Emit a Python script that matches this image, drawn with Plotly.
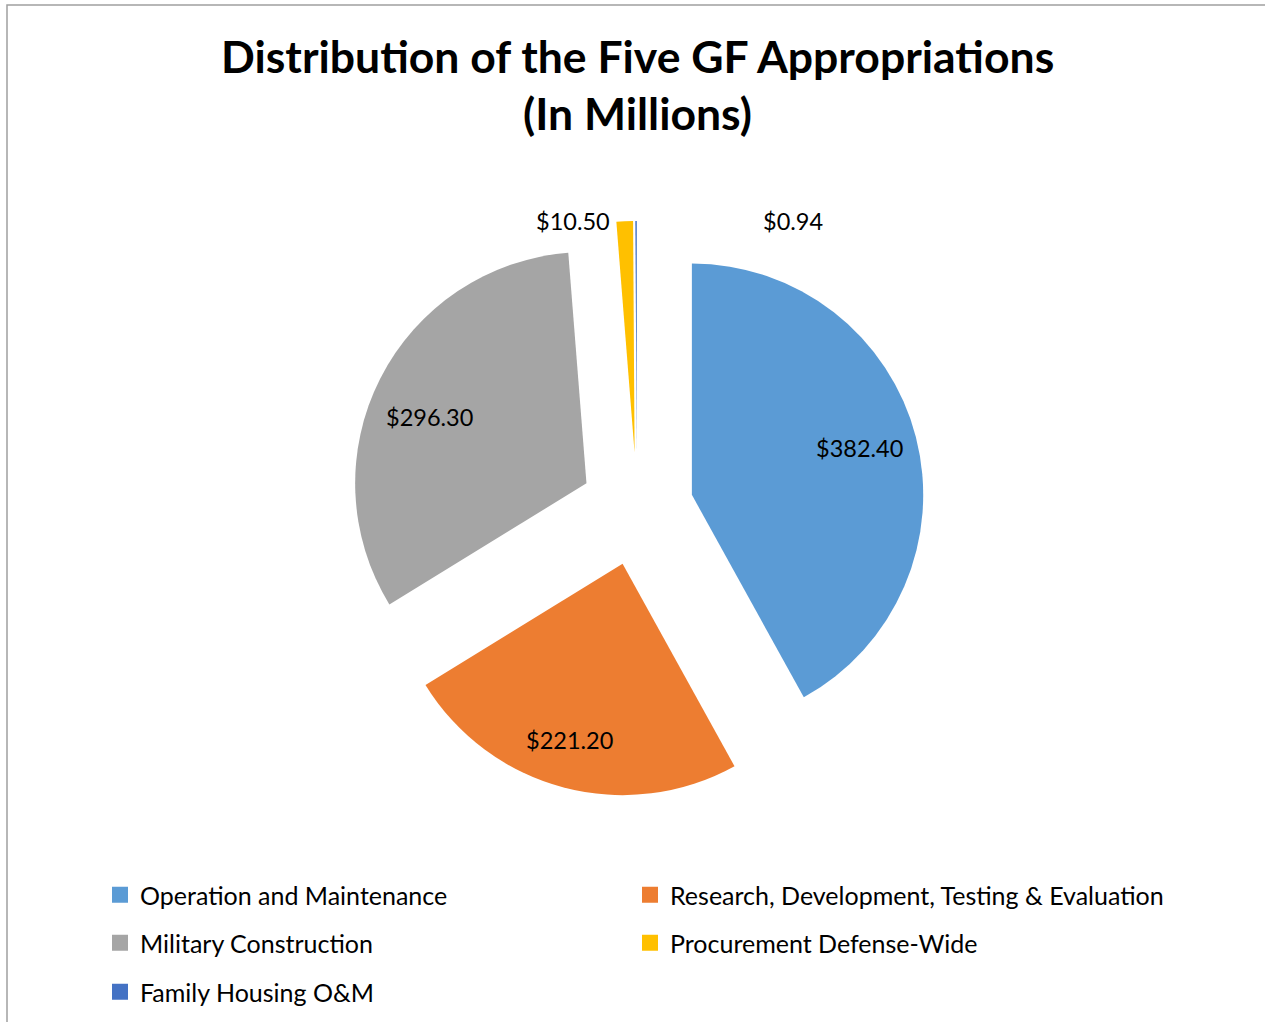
import math
import plotly.graph_objects as go

categories = ["Operation and Maintenance", "Research, Development, Testing & Evaluation",
              "Military Construction", "Procurement Defense-Wide", "Family Housing O&M"]
values = [382.40, 221.20, 296.30, 10.50, 0.94]
colors = ["#5B9BD5", "#ED7D31", "#A5A5A5", "#FFC000", "#4472C4"]

W, H = 1265, 1022
cx, cy, RT = 637, 509, 288          # pie centre and total radius (px)
PULL = 0.245
R = RT / (1 + PULL)                  # slice radius (px)

fig = go.Figure(go.Pie(
    labels=categories,
    values=values,
    sort=False,
    direction="clockwise",
    rotation=0,
    pull=[PULL] * len(values),
    marker=dict(colors=colors, line=dict(width=0)),
    textinfo="none",
    automargin=False,
    showlegend=False,
    hoverinfo="label+value",
    domain=dict(x=[(cx - RT) / W, (cx + RT) / W], y=[1 - (cy + RT) / H, 1 - (cy - RT) / H]),
))

# legend entries (square markers), one legend box per entry: 2 columns x 3 rows
legend_ids = ["legend", "legend2", "legend3", "legend4", "legend5"]
legend_pos = [(100, 895), (630, 895), (100, 943), (630, 943), (100, 992)]
for name, col, lg in zip(categories, colors, legend_ids):
    fig.add_trace(go.Scatter(x=[None], y=[None], mode="markers", name=name,
                             marker=dict(symbol="square", size=16, color=col),
                             legend=lg, showlegend=True, hoverinfo="skip"))

# data labels placed along each slice's mid angle
label_font = dict(size=23.5, family="Lato", color="#000000")
label_shift = [(0, 3), (-9, -8), (-2, -12), (1, 0), (-2, 0)]
total = sum(values)
annotations = []
start = 0.0
for i, v in enumerate(values):
    frac = v / total
    mid = (start + frac / 2) * 2 * math.pi
    start += frac
    dx, dy = math.sin(mid), -math.cos(mid)
    txt = "${:.2f}".format(v)
    sx, sy = label_shift[i]
    if frac > 0.05:
        d = PULL * R + 0.75 * R
        anc = "center"
    else:
        d = PULL * R + R
        if i == 3:
            anc, sx = "right", sx - 14
        else:
            anc, sx = "left", sx + 127
    px, py = cx + dx * d, cy + dy * d
    annotations.append(dict(x=px / W, y=1 - py / H, xref="paper", yref="paper",
                            text=txt, showarrow=False, xanchor=anc, yanchor="middle",
                            xshift=sx, yshift=sy, font=label_font))

title_lines = ["Distribution of the Five GF Appropriations", "(In Millions)"]
for line, ty in zip(title_lines, [55, 113]):
    annotations.append(dict(x=637 / W, y=1 - ty / H, xref="paper", yref="paper",
                            text="<b>" + line + "</b>", showarrow=False,
                            xanchor="center", yanchor="middle",
                            font=dict(size=44.5, family="Lato", color="#000000")))

legends = {}
for lg, (lx, ly) in zip(legend_ids, legend_pos):
    legends[lg] = dict(orientation="v", x=lx / W, xanchor="left", y=1 - ly / H, yanchor="middle",
                       font=dict(size=25, family="Lato", color="#000000"),
                       bgcolor="rgba(0,0,0,0)")

fig.update_layout(
    width=W, height=H,
    margin=dict(l=0, r=0, t=0, b=0),
    paper_bgcolor="white",
    plot_bgcolor="white",
    font=dict(family="Lato", color="#000000"),
    xaxis=dict(visible=False),
    yaxis=dict(visible=False),
    showlegend=True,
    annotations=annotations,
    shapes=[dict(type="rect", xref="paper", yref="paper",
                 x0=7 / W, x1=1.01, y0=-0.01, y1=1 - 5 / H,
                 line=dict(color="#A0A0A0", width=1.5))],
    **legends,
)

fig.write_html("out.html")
